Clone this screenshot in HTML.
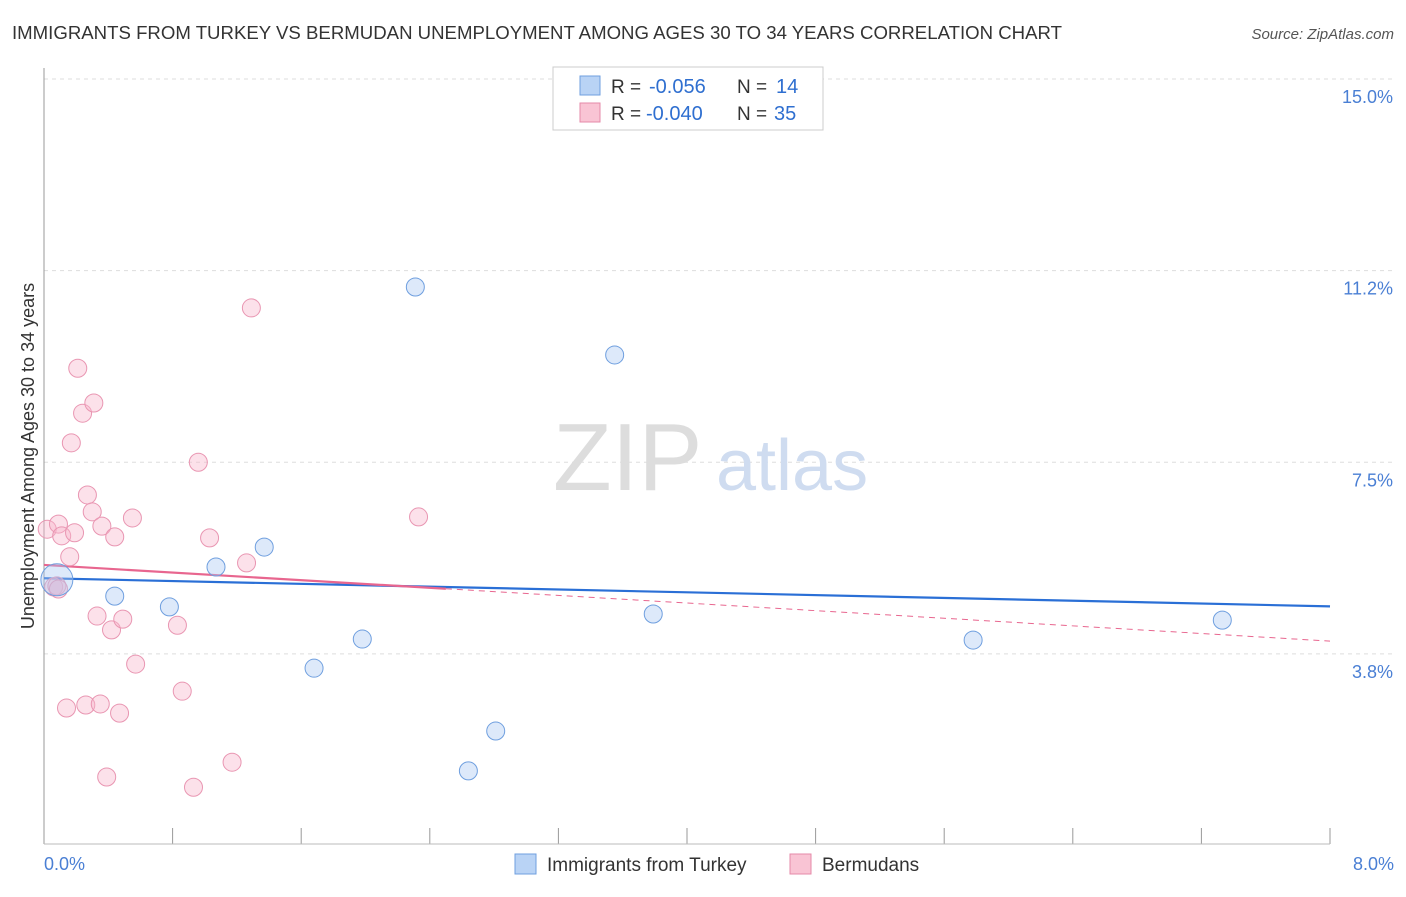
<!DOCTYPE html>
<html><head><meta charset="utf-8"><style>
body{margin:0;background:#fff;font-family:"Liberation Sans",sans-serif;}
svg text{font-family:"Liberation Sans",sans-serif;}
</style></head><body>
<svg id="chart" width="1406" height="892" viewBox="0 0 1406 892">
<text x="12" y="39" font-size="18" fill="#333" textLength="1050" lengthAdjust="spacingAndGlyphs">IMMIGRANTS FROM TURKEY VS BERMUDAN UNEMPLOYMENT AMONG AGES 30 TO 34 YEARS CORRELATION CHART</text>
<text x="1394" y="39" font-size="15" fill="#555" font-style="italic" text-anchor="end">Source: ZipAtlas.com</text>
<g id="grid"></g>
<g><text x="553" y="490" font-size="96" fill="#ddd" font-family="Liberation Serif">ZIP</text><text x="716" y="490" font-size="72" fill="#cfdcf0">atlas</text></g>
<line x1="44" y1="68" x2="44" y2="844" stroke="#999"/>
<line x1="44" y1="844" x2="1330" y2="844" stroke="#bbb"/>
<text transform="translate(34,456) rotate(-90)" font-size="18" fill="#333" text-anchor="middle">Unemployment Among Ages 30 to 34 years</text>
<text x="44" y="870" font-size="18" fill="#4a7fd4">0.0%</text>
<text x="1394" y="870" font-size="18" fill="#4a7fd4" text-anchor="end">8.0%</text>
<g id="trend"></g>
<g id="pts"></g>
<g>
<rect x="553" y="67" width="270" height="63" fill="#fff" stroke="#ccc"/>
<rect x="580" y="76" width="20" height="19" fill="#b9d3f5" stroke="#6f9fdf"/>
<rect x="580" y="103" width="20" height="19" fill="#f9c4d4" stroke="#e58aa8"/>
<text x="611" y="93" font-size="19" fill="#333">R =</text>
<text x="649" y="93" font-size="20" fill="#2f6fd0">-0.056</text>
<text x="737" y="93" font-size="19" fill="#333">N =</text>
<text x="776" y="93" font-size="20" fill="#2f6fd0">14</text>
<text x="611" y="120" font-size="19" fill="#333">R =</text>
<text x="646" y="120" font-size="20" fill="#2f6fd0">-0.040</text>
<text x="737" y="120" font-size="19" fill="#333">N =</text>
<text x="774" y="120" font-size="20" fill="#2f6fd0">35</text>
</g>
<g>
<rect x="515" y="854" width="21" height="20" fill="#b9d3f5" stroke="#6f9fdf"/>
<text x="547" y="871" font-size="19" fill="#333">Immigrants from Turkey</text>
<rect x="790" y="854" width="21" height="20" fill="#f9c4d4" stroke="#e58aa8"/>
<text x="822" y="871" font-size="19" fill="#333">Bermudans</text>
</g>
</svg>
<script>
const yTicks=[15.0,11.25,7.5,3.75];
const yTickLabels=["15.0%","11.2%","7.5%","3.8%"];
const xTicks=[0.8,1.6,2.4,3.2,4.0,4.8,5.6,6.4,7.2,8.0];
const turkeyX=[0.08,0.44,0.78,1.07,1.37,1.68,1.98,2.31,2.64,2.81,3.55,3.79,5.78,7.33];
const turkeyY=[5.20,4.88,4.67,5.45,5.84,3.47,4.04,10.93,1.46,2.24,9.60,4.53,4.02,4.41];
const bermX=[0.02,0.06,0.08,0.09,0.11,0.14,0.16,0.17,0.19,0.21,0.24,0.27,0.26,0.30,0.31,0.33,0.35,0.36,0.39,0.42,0.44,0.47,0.49,0.55,0.57,0.83,0.86,0.93,0.96,1.03,1.17,1.26,1.29,2.33,0.09];
const bermY=[6.19,5.06,5.08,6.29,6.06,2.69,5.65,7.88,6.12,9.34,8.46,6.86,2.75,6.53,8.66,4.49,2.77,6.25,1.34,4.22,6.04,2.59,4.43,6.41,3.55,4.31,3.02,1.14,7.50,6.02,1.63,5.53,10.52,6.43,5.02];
const turkeyTrend=[5.23,4.68];
const bermTrend=[5.49,4.00];
const NS="http://www.w3.org/2000/svg";
const X=v=>44+v/8*1286;
const Y=v=>79+(15-v)*51.1;
function mk(tag,attrs,parent){const e=document.createElementNS(NS,tag);for(const k in attrs)e.setAttribute(k,attrs[k]);parent.appendChild(e);return e;}
const grid=document.getElementById('grid');
yTicks.forEach((t,i)=>{
 const l=mk('line',{x1:44,x2:1394,y1:Y(t),y2:Y(t),stroke:'#ddd','stroke-dasharray':'4,4'},grid);
 
 
 const tx=mk('text',{x:1393,y:Y(t)+24,'font-size':18,fill:'#4a7fd4','text-anchor':'end'},grid);
 tx.textContent=yTickLabels[i];
 
 
});
xTicks.forEach(t=>{
 const l=mk('line',{x1:X(t),x2:X(t),y1:828,y2:844,stroke:'#999'},grid);
 
 
});
const tr=document.getElementById('trend');
let l1=mk('line',{x1:X(0),y1:Y(turkeyTrend[0]),x2:X(8),y2:Y(turkeyTrend[1]),stroke:'#2a6fd6','stroke-width':2.2},tr);


const bx=2.5, by=bermTrend[0]+(bermTrend[1]-bermTrend[0])*bx/8;
let l2=mk('line',{x1:X(0),y1:Y(bermTrend[0]),x2:X(bx),y2:Y(by),stroke:'#e8668f','stroke-width':2.2},tr);


let l3=mk('line',{x1:X(bx),y1:Y(by),x2:X(8),y2:Y(bermTrend[1]),stroke:'#e8668f','stroke-width':1,'stroke-dasharray':'6,5'},tr);


const pts=document.getElementById('pts');
bermX.forEach((x,i)=>{
 const c=mk('circle',{cx:X(x),cy:Y(bermY[i]),r:9,fill:'rgba(248,180,202,0.4)',stroke:'#e996b2','stroke-width':1},pts);
 
 
});
turkeyX.forEach((x,i)=>{
 const c=mk('circle',{cx:X(x),cy:Y(turkeyY[i]),r:i===0?16:9,fill:'rgba(170,200,242,0.4)',stroke:'#6f9fdf','stroke-width':1},pts);
 
 
});
</script>
</body></html>
